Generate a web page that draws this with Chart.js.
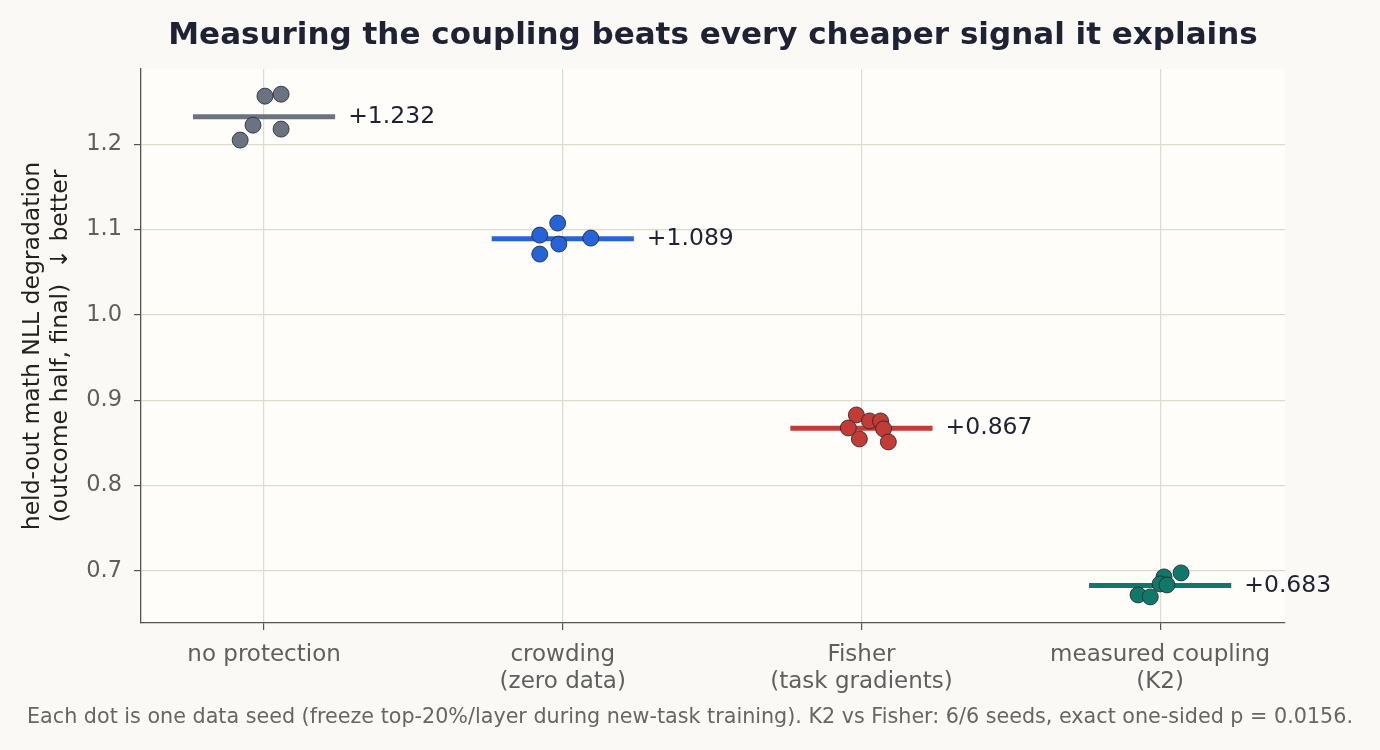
<!DOCTYPE html>
<html>
<head>
<meta charset="utf-8">
<script src="https://cdn.jsdelivr.net/npm/chart.js@4.4.1/dist/chart.umd.min.js"></script>
<style>
  html, body { margin: 0; padding: 0; background: #faf9f6; }
  #wrap { width: 1380px; height: 750px; }
</style>
</head>
<body>
<div id="wrap"><canvas id="chart_Coupling" width="1380" height="750"></canvas></div>
<script>
// categories and per-seed values
const categories = [['no protection'], ['crowding', '(zero data)'], ['Fisher', '(task gradients)'], ['measured coupling', '(K2)']];
const seedValues = [
  [1.2047, 1.2222, 1.2562, 1.2585, 1.2176],
  [1.1075, 1.0934, 1.0899, 1.0829, 1.0712],
  [0.8827, 0.8675, 0.8546, 0.8757, 0.8757, 0.8664, 0.8511],
  [0.6977, 0.6930, 0.6848, 0.6836, 0.6719, 0.6696]
];
// horizontal jitter of each dot, in category units
const seedJitter = [
  [-0.080, -0.037, 0.003, 0.057, 0.057],
  [-0.017, -0.077, 0.094, -0.013, -0.077],
  [-0.017, -0.044, -0.007, 0.027, 0.064, 0.074, 0.090],
  [0.070, 0.013, 0.000, 0.023, -0.074, -0.033]
];
const means = [1.232, 1.089, 0.867, 0.683];
const yTicks = [0.7, 0.8, 0.9, 1.0, 1.1, 1.2];
const colors = ['#6b7280', '#2563d6', '#c23b35', '#0f7868'];

const titleText = 'Measuring the coupling beats every cheaper signal it explains';
const yTitle = ['held-out math NLL degradation', '(outcome half, final)  \u2193 better'];
const footnote = 'Each dot is one data seed (freeze top-20%/layer during new-task training). K2 vs Fisher: 6/6 seeds, exact one-sided p = 0.0156.';

const FONT = "'DejaVu Sans', sans-serif";
const halfWidth = 0.238;

const datasets = [];
categories.forEach((c, i) => {
  datasets.push({
    type: 'scatter',
    data: seedValues[i].map((v, k) => ({ x: i + seedJitter[i][k], y: v })),
    backgroundColor: colors[i],
    borderColor: '#1f2430',
    borderWidth: 0.8,
    pointRadius: 8,
    order: 1
  });
});
categories.forEach((c, i) => {
  datasets.push({
    type: 'line',
    data: [{ x: i - halfWidth, y: means[i] }, { x: i + halfWidth, y: means[i] }],
    borderColor: colors[i],
    borderWidth: 5,
    pointRadius: 0,
    order: 2
  });
});

const extras = {
  id: 'extras',
  beforeDraw(chart) {
    const { ctx, chartArea: a } = chart;
    ctx.save();
    ctx.fillStyle = '#faf9f6';
    ctx.fillRect(0, 0, chart.width, chart.height);
    ctx.fillStyle = '#fffdf9';
    ctx.fillRect(a.left, a.top, a.right - a.left, a.bottom - a.top);
    ctx.restore();
  },
  afterDraw(chart) {
    const { ctx, chartArea: a, scales } = chart;
    ctx.save();
    // title
    ctx.fillStyle = '#1e2233';
    ctx.font = 'bold 31px ' + FONT;
    ctx.textAlign = 'center';
    ctx.textBaseline = 'middle';
    ctx.fillText(titleText, (a.left + a.right) / 2, 36);
    // y title
    ctx.save();
    ctx.translate(0, (a.top + a.bottom) / 2);
    ctx.rotate(-Math.PI / 2);
    ctx.font = '23.5px ' + FONT;
    ctx.fillStyle = '#222222';
    ctx.fillText(yTitle[0], 0, 33);
    ctx.fillText(yTitle[1], 0, 61);
    ctx.restore();
    // mean labels
    ctx.font = '23.5px ' + FONT;
    ctx.fillStyle = '#1e2233';
    ctx.textAlign = 'left';
    means.forEach((m, i) => {
      const x = scales.x.getPixelForValue(i + halfWidth) + 13;
      const y = scales.y.getPixelForValue(m);
      ctx.fillText('+' + m.toFixed(3), x, y);
    });
    // footnote
    ctx.font = '20.7px ' + FONT;
    ctx.fillStyle = '#666666';
    ctx.textAlign = 'center';
    ctx.fillText(footnote, chart.width / 2, 718);
    ctx.restore();
  }
};

new Chart(document.getElementById('chart_Coupling'), {
  data: { datasets: datasets },
  options: {
    responsive: false,
    animation: false,
    layout: { padding: { top: 69, right: 95, bottom: 0, left: 0 } },
    plugins: {
      legend: { display: false },
      title: { display: false },
      tooltip: { enabled: false }
    },
    scales: {
      x: {
        type: 'linear',
        min: -0.412,
        max: 3.418,
        afterFit(s) { s.height = 127; },
        afterBuildTicks(s) { s.ticks = categories.map((c, i) => ({ value: i })); },
        ticks: {
          callback: (v) => categories[v],
          color: '#5f5f5f',
          font: { family: FONT, size: 23, lineHeight: 1.17 },
          padding: 12,
          maxRotation: 0
        },
        grid: { color: '#dedad0', lineWidth: 1.2, tickLength: 7, tickColor: '#555555' },
        border: { color: '#555555', width: 1.3 }
      },
      y: {
        type: 'linear',
        min: 0.639,
        max: 1.288,
        afterFit(s) { s.width = 141; },
        afterBuildTicks(s) { s.ticks = yTicks.map(v => ({ value: v })); },
        ticks: {
          callback: (v) => v.toFixed(1),
          color: '#5f5f5f',
          font: { family: FONT, size: 22.5 },
          padding: 12
        },
        grid: { color: '#dedad0', lineWidth: 1.2, tickLength: 7, tickColor: '#555555' },
        border: { color: '#555555', width: 1.3 }
      }
    }
  },
  plugins: [extras]
});
</script>
</body>
</html>
